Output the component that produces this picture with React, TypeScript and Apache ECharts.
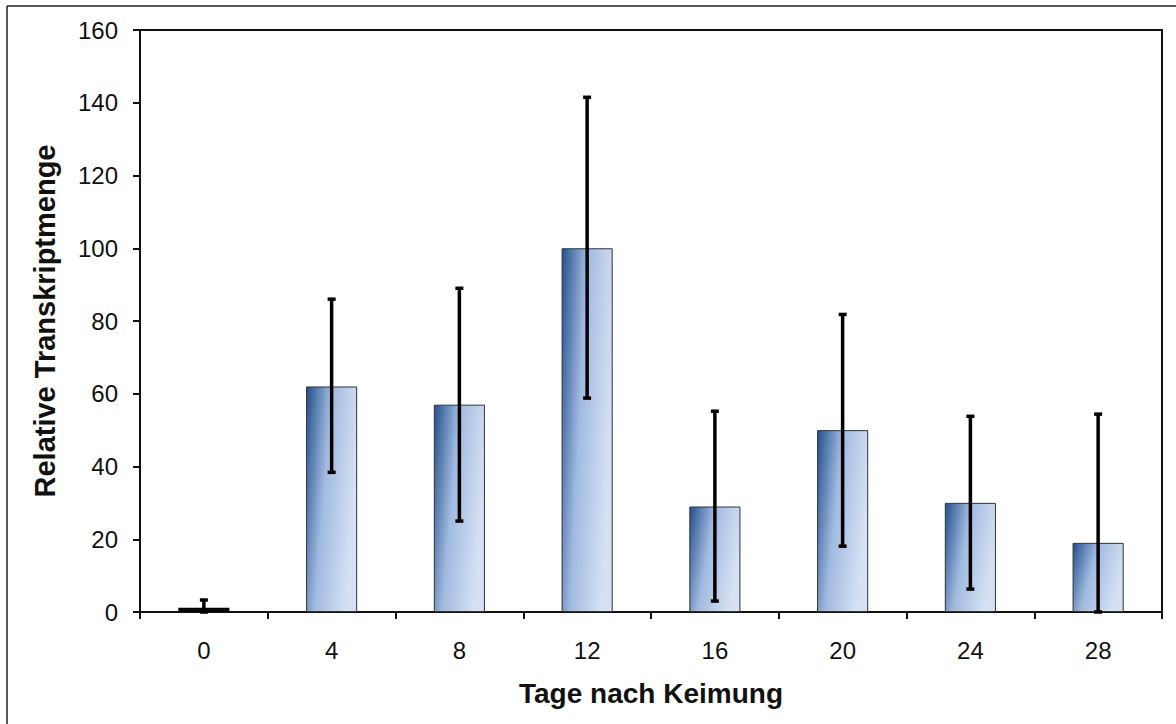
import React, { useEffect, useRef } from "react";
import * as echarts from "echarts";

const categories = ["0", "4", "8", "12", "16", "20", "24", "28"];
const means = [1.2, 62, 57, 100, 29, 50, 30, 19];
const errUpper = [3.3, 86, 89, 141.5, 55.2, 81.8, 53.8, 54.4];
const errLower = [0, 38.4, 25, 58.8, 3, 18.1, 6.3, 0];
const yTicks = { min: 0, max: 160, interval: 20 };

export default function App() {
  const ref = useRef<HTMLDivElement>(null);
  useEffect(() => {
    const chart = echarts.init(ref.current!, null, { renderer: "svg" });
    const font = "Liberation Sans, Arial, sans-serif";
    const errData = categories.map((c, i) => [i, errLower[i], errUpper[i]]);
    const barData = means.map((v, i) =>
      v < 3 ? { value: v, itemStyle: { color: "#111", borderColor: "#000", borderWidth: 1.5 } } : v
    );
    chart.setOption({
      animation: false,
      backgroundColor: "#fff",
      grid: {
        left: 140,
        right: 14,
        top: 30,
        bottom: 112,
        show: true,
        borderColor: "#111",
        borderWidth: 2,
      },
      xAxis: {
        type: "category",
        data: categories,
        boundaryGap: true,
        axisLine: { lineStyle: { color: "#111", width: 2 } },
        axisTick: { show: true, alignWithLabel: false, length: 7, lineStyle: { color: "#111", width: 2 } },
        axisLabel: { color: "#111", fontSize: 24, fontFamily: font, margin: 26 },
        name: "Tage nach Keimung",
        nameLocation: "middle",
        nameGap: 67,
        nameTextStyle: { color: "#111", fontSize: 28, fontWeight: "bold", fontFamily: font, verticalAlign: "top" },
      },
      yAxis: {
        type: "value",
        min: yTicks.min,
        max: yTicks.max,
        interval: yTicks.interval,
        splitLine: { show: false },
        axisLine: { show: true, lineStyle: { color: "#111", width: 2 } },
        axisTick: { show: true, length: 7, lineStyle: { color: "#111", width: 2 } },
        axisLabel: { color: "#111", fontSize: 24, fontFamily: font, margin: 22 },
        name: "Relative Transkriptmenge",
        nameLocation: "middle",
        nameGap: 81,
        nameTextStyle: { color: "#111", fontSize: 29, fontWeight: "bold", fontFamily: font },
      },
      graphic: [
        { type: "line", shape: { x1: 7, y1: 6, x2: 7, y2: 724 }, style: { stroke: "#222", lineWidth: 1.5 } },
        { type: "line", shape: { x1: 7, y1: 6, x2: 1176, y2: 6 }, style: { stroke: "#222", lineWidth: 1.5 } },
      ],
      series: [
        {
          type: "bar",
          data: barData,
          barWidth: "40%",
          itemStyle: {
            color: new echarts.graphic.LinearGradient(0, 0, 1, 0.35, [
              { offset: 0, color: "#24508c" },
              { offset: 0.45, color: "#a0bae0" },
              { offset: 1, color: "#d5e0f3" },
            ]),
            borderColor: "#333",
            borderWidth: 1,
          },
          z: 2,
        },
        {
          type: "custom",
          data: errData,
          z: 5,
          renderItem: (params: any, api: any) => {
            const x = api.value(0);
            const lo = api.coord([x, api.value(1)]);
            const hi = api.coord([x, api.value(2)]);
            const cap = 4;
            const style = { stroke: "#000", lineWidth: 3.5 };
            return {
              type: "group",
              children: [
                { type: "line", shape: { x1: hi[0], y1: hi[1], x2: lo[0], y2: lo[1] }, style },
                { type: "line", shape: { x1: hi[0] - cap, y1: hi[1], x2: hi[0] + cap, y2: hi[1] }, style },
                { type: "line", shape: { x1: lo[0] - cap, y1: lo[1], x2: lo[0] + cap, y2: lo[1] }, style },
              ],
            };
          },
        },
      ],
    });
    return () => chart.dispose();
  }, []);
  return (
    <div
      ref={ref}
      style={{ position: "fixed", left: 0, top: 0, width: 1176, height: 724, background: "#fff" }}
    />
  );
}
